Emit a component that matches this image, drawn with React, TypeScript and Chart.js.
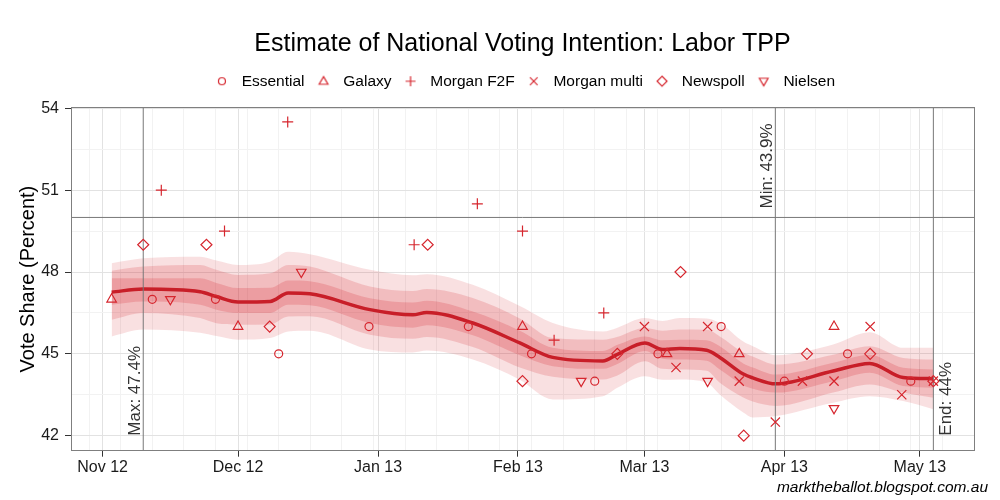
import React, { useEffect, useRef } from 'react';
import { Chart, registerables } from 'chart.js';

Chart.register(...registerables);

const FONT = "'Liberation Sans', Arial, Helvetica, sans-serif";

// ---------- axis ticks ----------
const monthTickDays = [0, 30, 61, 92, 120, 151, 181]; // days since 1 Nov 2012
const monthTickLabels = ['Nov 12', 'Dec 12', 'Jan 13', 'Feb 13', 'Mar 13', 'Apr 13', 'May 13'];
const weeklyGridDays = [-3, 4, 11, 18, 25, 32, 39, 46, 53, 60, 67, 74, 81, 88, 95, 102, 109, 116, 123, 130, 137, 144, 151, 158, 165, 172, 179, 186, 193];
const yMajorTicks = [42, 45, 48, 51, 54];
const yMinorTicks = [43.5, 46.5, 49.5, 52.5];

// ---------- model estimate ----------
const estDays = [2, 9, 21.6, 25.2, 30, 37.1, 41.1, 45.9, 59.2, 68.7, 71.8, 82, 92.4, 99.7, 110.8, 113.9, 120.1, 124, 127.8, 133.8, 136.7, 141.9, 144, 149.1, 161.8, 169.9, 177.3, 184];
const estMedian = [47.26, 47.38, 47.28, 47.10, 46.90, 46.92, 47.23, 47.20, 46.62, 46.43, 46.52, 46.13, 45.40, 44.87, 44.74, 44.97, 45.40, 45.16, 45.20, 45.13, 44.87, 44.26, 44.12, 43.90, 44.37, 44.65, 44.13, 44.09];
const upper95 = [48.32, 48.50, 48.56, 48.42, 48.26, 48.38, 48.74, 48.65, 48.08, 47.88, 47.92, 47.53, 46.75, 46.13, 45.82, 45.95, 46.31, 46.20, 46.31, 46.30, 46.13, 45.45, 45.28, 44.95, 45.34, 45.79, 45.22, 45.22];
const lower95 = [45.64, 45.89, 45.77, 45.65, 45.52, 45.58, 45.82, 45.85, 45.16, 45.05, 45.12, 44.79, 44.05, 43.33, 43.45, 43.75, 44.18, 44.05, 44.06, 43.95, 43.51, 42.85, 42.67, 42.72, 43.21, 43.45, 43.27, 42.97];
const upper80 = [48.05, 48.20, 48.26, 48.08, 47.89, 47.95, 48.26, 48.20, 47.47, 47.30, 47.38, 47.05, 46.30, 45.58, 45.52, 45.62, 45.95, 45.85, 45.89, 45.88, 45.64, 45.05, 44.90, 44.61, 44.97, 45.28, 44.85, 44.79];
const lower80 = [46.25, 46.50, 46.31, 46.12, 46.07, 46.08, 46.37, 46.38, 45.70, 45.55, 45.62, 45.25, 44.50, 44.16, 44.06, 44.20, 44.73, 44.45, 44.43, 44.38, 43.94, 43.40, 43.25, 43.09, 43.58, 43.88, 43.58, 43.39];
const upper50 = [47.77, 47.77, 47.77, 47.60, 47.41, 47.42, 47.69, 47.66, 47.04, 46.88, 46.95, 46.55, 45.85, 45.22, 45.10, 45.32, 45.64, 45.50, 45.52, 45.50, 45.28, 44.65, 44.50, 44.24, 44.67, 44.97, 44.49, 44.43];
const lower50 = [46.80, 46.92, 46.80, 46.62, 46.50, 46.50, 46.80, 46.78, 46.13, 45.96, 46.05, 45.68, 44.95, 44.55, 44.45, 44.62, 45.10, 44.82, 44.79, 44.75, 44.43, 43.85, 43.72, 43.58, 44.00, 44.31, 43.82, 43.76];

// ---------- polls ----------
const essentialDays = [11, 25, 39, 59, 81, 95, 109, 123, 137, 151, 165, 179];
const essentialValues = [47, 47, 45, 46, 46, 45, 44, 45, 46, 44, 45, 44];
const galaxyDays = [2, 30, 93, 125, 141, 162];
const galaxyValues = [47, 46, 46, 45, 45, 46];
const morganF2FDays = [13, 27, 41, 69, 83, 93, 100, 111];
const morganF2FValues = [51, 49.5, 53.5, 49, 50.5, 49.5, 45.5, 46.5];
const morganMultiDays = [120, 127, 134, 141, 149, 155, 162, 170, 177, 184];
const morganMultiValues = [46, 44.5, 46, 44, 42.5, 44, 44, 46, 43.5, 44];
const newspollDays = [9, 23, 37, 72, 93, 114, 128, 142, 156, 170, 184];
const newspollValues = [49, 49, 46, 49, 44, 45, 48, 42, 45, 45, 44];
const nielsenDays = [15, 44, 106, 134, 162];
const nielsenValues = [47, 48, 44, 44, 43];

const pollsterNames = ['Essential', 'Galaxy', 'Morgan F2F', 'Morgan multi', 'Newspoll', 'Nielsen'];

// ---------- reference lines ----------
const refLineDays = [9, 149, 184];
const refHLineValue = 50;
const refLabelTexts = ['Max: 47.4%', 'Min: 43.9%', 'End: 44%'];
const refLabelStart = [42, 50.33, 42];
const refLabelSide = ['left', 'left', 'right'];

const X_MIN = -7;
const X_MAX = 193;
const Y_MIN = 41.45;
const Y_MAX = 54.03;

const RED = 'rgb(214, 38, 46)';
const LINE_RED = 'rgb(200, 30, 40)';

const pts = (xs: number[], ys: number[]) => xs.map((x, i) => ({ x, y: ys[i] }));

function makeIcon(kind: string): HTMLCanvasElement {
  const c = document.createElement('canvas');
  c.width = 16;
  c.height = 16;
  const g = c.getContext('2d')!;
  g.strokeStyle = RED;
  g.lineWidth = 1.2;
  const cx = 8, cy = 8;
  g.beginPath();
  if (kind === 'circle') {
    g.arc(cx, cy, 3.5, 0, Math.PI * 2);
  } else if (kind === 'tri') {
    g.moveTo(cx, cy - 4.6); g.lineTo(cx + 4.4, cy + 3); g.lineTo(cx - 4.4, cy + 3); g.closePath();
  } else if (kind === 'plus') {
    g.moveTo(cx - 5, cy); g.lineTo(cx + 5, cy); g.moveTo(cx, cy - 5); g.lineTo(cx, cy + 5);
  } else if (kind === 'x') {
    g.moveTo(cx - 3.8, cy - 3.8); g.lineTo(cx + 3.8, cy + 3.8); g.moveTo(cx + 3.8, cy - 3.8); g.lineTo(cx - 3.8, cy + 3.8);
  } else if (kind === 'diamond') {
    g.moveTo(cx, cy - 5); g.lineTo(cx + 5, cy); g.lineTo(cx, cy + 5); g.lineTo(cx - 5, cy); g.closePath();
  } else {
    g.moveTo(cx, cy + 4.6); g.lineTo(cx + 4.4, cy - 3); g.lineTo(cx - 4.4, cy - 3); g.closePath();
  }
  g.stroke();
  return c;
}

const refLabelPlugin = {
  id: 'refLabels',
  afterDatasetsDraw(chart: any) {
    const { ctx, scales } = chart;
    const xs = scales.x;
    const ys = scales.y;
    ctx.save();
    ctx.font = `17px ${FONT}`;
    ctx.fillStyle = '#333333';
    ctx.textAlign = 'left';
    ctx.textBaseline = 'alphabetic';
    refLabelTexts.forEach((t, i) => {
      const px = xs.getPixelForValue(refLineDays[i]);
      const py = ys.getPixelForValue(refLabelStart[i]);
      ctx.save();
      ctx.translate(refLabelSide[i] === 'left' ? px - 3.5 : px + 18, py);
      ctx.rotate(-Math.PI / 2);
      ctx.fillText(t, 0, 0);
      ctx.restore();
    });
    ctx.restore();
  },
};

export default function App() {
  const ref = useRef<HTMLCanvasElement | null>(null);

  useEffect(() => {
    if (!ref.current) return;
    Chart.defaults.font.family = FONT;

    const icons = ['circle', 'tri', 'plus', 'x', 'diamond', 'nabla'].map(makeIcon);

    const band = (data: any[], color: string, order: number, fill: any) => ({
      type: 'line',
      data,
      borderColor: 'rgba(0,0,0,0)',
      borderWidth: 0,
      backgroundColor: color,
      pointRadius: 0,
      fill,
      order,
      cubicInterpolationMode: 'monotone',
    });

    const pointSet = (label: string, data: any[], style: string, radius: number, rotation = 0) => ({
      type: 'line',
      label,
      data,
      showLine: false,
      borderColor: RED,
      backgroundColor: 'rgba(0,0,0,0)',
      pointStyle: style,
      pointRadius: radius,
      pointBorderWidth: 1.2,
      pointRotation: rotation,
      order: 0,
    });

    const refLine = (data: any[]) => ({
      type: 'line',
      data,
      borderColor: 'rgb(120,120,120)',
      borderWidth: 1,
      pointRadius: 0,
      fill: false,
      order: 1,
    });

    const datasets: any[] = [
      band(pts(estDays, upper95), 'rgba(214, 38, 46, 0.14)', 5, '+1'),
      band(pts(estDays, lower95), 'rgba(0,0,0,0)', 5, false),
      band(pts(estDays, upper80), 'rgba(214, 38, 46, 0.19)', 4, '+1'),
      band(pts(estDays, lower80), 'rgba(0,0,0,0)', 4, false),
      band(pts(estDays, upper50), 'rgba(214, 38, 46, 0.21)', 3, '+1'),
      band(pts(estDays, lower50), 'rgba(0,0,0,0)', 3, false),
      {
        type: 'line',
        data: pts(estDays, estMedian),
        borderColor: LINE_RED,
        borderWidth: 3.5,
        pointRadius: 0,
        fill: false,
        order: 2,
        cubicInterpolationMode: 'monotone',
      },
      pointSet(pollsterNames[0], pts(essentialDays, essentialValues), 'circle', 4),
      pointSet(pollsterNames[1], pts(galaxyDays, galaxyValues), 'triangle', 5.5),
      pointSet(pollsterNames[2], pts(morganF2FDays, morganF2FValues), 'cross', 5.5),
      pointSet(pollsterNames[3], pts(morganMultiDays, morganMultiValues), 'crossRot', 6.5),
      pointSet(pollsterNames[4], pts(newspollDays, newspollValues), 'rectRot', 5.5),
      pointSet(pollsterNames[5], pts(nielsenDays, nielsenValues), 'triangle', 5.5, 180),
      ...refLineDays.map((d) => refLine([{ x: d, y: Y_MIN }, { x: d, y: Y_MAX }])),
      refLine([{ x: X_MIN, y: refHLineValue }, { x: X_MAX, y: refHLineValue }]),
    ];

    const MAJOR_GRID = 'rgb(226,226,226)';
    const MINOR_GRID = 'rgb(242,242,242)';
    const BORDER = 'rgb(127,127,127)';
    const TICK_TEXT = '#1a1a1a';

    const chart = new Chart(ref.current, {
      type: 'line',
      data: { datasets },
      plugins: [refLabelPlugin],
      options: {
        responsive: false,
        animation: false,
        events: [],
        layout: { padding: { top: 0, right: 12, bottom: 0, left: 0 } },
        plugins: {
          title: {
            display: true,
            text: 'Estimate of National Voting Intention: Labor TPP',
            fullSize: false,
            color: '#000',
            font: { family: FONT, size: 25, weight: 'normal' },
            padding: { top: 29, bottom: 7.5 },
          },
          subtitle: {
            display: true,
            text: 'marktheballot.blogspot.com.au',
            position: 'bottom',
            align: 'end',
            fullSize: true,
            color: '#000',
            font: { family: FONT, size: 15.5, style: 'italic', weight: 'normal' },
            padding: { top: 0, bottom: 3 },
          },
          legend: {
            display: true,
            position: 'top',
            fullSize: false,
            onClick: () => {},
            labels: {
              usePointStyle: true,
              pointStyleWidth: 24,
              padding: 7,
              color: '#000',
              font: { family: FONT, size: 15.5 },
              generateLabels: () =>
                pollsterNames.map((name, i) => ({
                  text: name,
                  pointStyle: icons[i],
                  fillStyle: 'rgba(0,0,0,0)',
                  strokeStyle: RED,
                  lineWidth: 1,
                  hidden: false,
                  datasetIndex: 7 + i,
                })),
            },
          },
          tooltip: { enabled: false },
        },
        scales: {
          x: {
            type: 'linear',
            position: 'bottom',
            min: X_MIN,
            max: X_MAX,
            afterBuildTicks: (scale: any) => {
              const vals = Array.from(new Set([...weeklyGridDays, ...monthTickDays])).sort((a, b) => a - b);
              scale.ticks = vals.map((v) => ({ value: v }));
            },
            afterFit: (scale: any) => {
              scale.height = 27.7;
            },
            ticks: {
              autoSkip: false,
              maxRotation: 0,
              minRotation: 0,
              padding: 1,
              color: TICK_TEXT,
              font: { family: FONT, size: 16 },
              callback: (value: any) => {
                const i = monthTickDays.indexOf(Number(value));
                return i >= 0 ? monthTickLabels[i] : '';
              },
            },
            grid: {
              drawOnChartArea: true,
              drawTicks: true,
              tickLength: 6,
              color: (c: any) => (c.tick && monthTickDays.includes(c.tick.value) ? MAJOR_GRID : MINOR_GRID),
              tickColor: (c: any) => (c.tick && monthTickDays.includes(c.tick.value) ? '#333333' : 'rgba(0,0,0,0)'),
              lineWidth: 1,
            },
            border: { display: true, color: BORDER, width: 1, z: 1 },
          },
          x2: {
            type: 'linear',
            position: 'top',
            display: true,
            grid: { display: false },
            ticks: { display: false },
            border: { display: true, color: BORDER, width: 1, z: 1 },
            afterFit: (scale: any) => {
              scale.height = 8.5;
            },
          },
          y: {
            type: 'linear',
            position: 'left',
            min: Y_MIN,
            max: Y_MAX,
            afterBuildTicks: (scale: any) => {
              const vals = [...yMajorTicks, ...yMinorTicks].sort((a, b) => a - b);
              scale.ticks = vals.map((v) => ({ value: v }));
            },
            afterFit: (scale: any) => {
              scale.width = 71;
            },
            title: {
              display: true,
              text: 'Vote Share (Percent)',
              color: '#000',
              font: { family: FONT, size: 20 },
              padding: { top: 16, bottom: 0 },
            },
            ticks: {
              autoSkip: false,
              padding: 6,
              color: TICK_TEXT,
              font: { family: FONT, size: 16 },
              callback: (value: any) => (yMajorTicks.includes(Number(value)) ? String(value) : ''),
            },
            grid: {
              drawOnChartArea: true,
              drawTicks: true,
              tickLength: 6,
              color: (c: any) => (c.tick && yMajorTicks.includes(c.tick.value) ? MAJOR_GRID : MINOR_GRID),
              tickColor: (c: any) => (c.tick && yMajorTicks.includes(c.tick.value) ? '#333333' : 'rgba(0,0,0,0)'),
              lineWidth: 1,
            },
            border: { display: true, color: BORDER, width: 1, z: 1 },
          },
          y2: {
            type: 'linear',
            position: 'right',
            display: true,
            grid: { display: false },
            ticks: { display: false },
            border: { display: true, color: BORDER, width: 1, z: 1 },
            afterFit: (scale: any) => {
              scale.width = 14;
            },
          },
        },
      } as any,
    } as any);

    return () => chart.destroy();
  }, []);

  return (
    <div style={{ position: 'absolute', left: 0, top: 0, width: 1000, height: 500, background: '#fff' }}>
      <canvas ref={ref} width={1000} height={500} style={{ display: 'block', width: 1000, height: 500 }} />
    </div>
  );
}
